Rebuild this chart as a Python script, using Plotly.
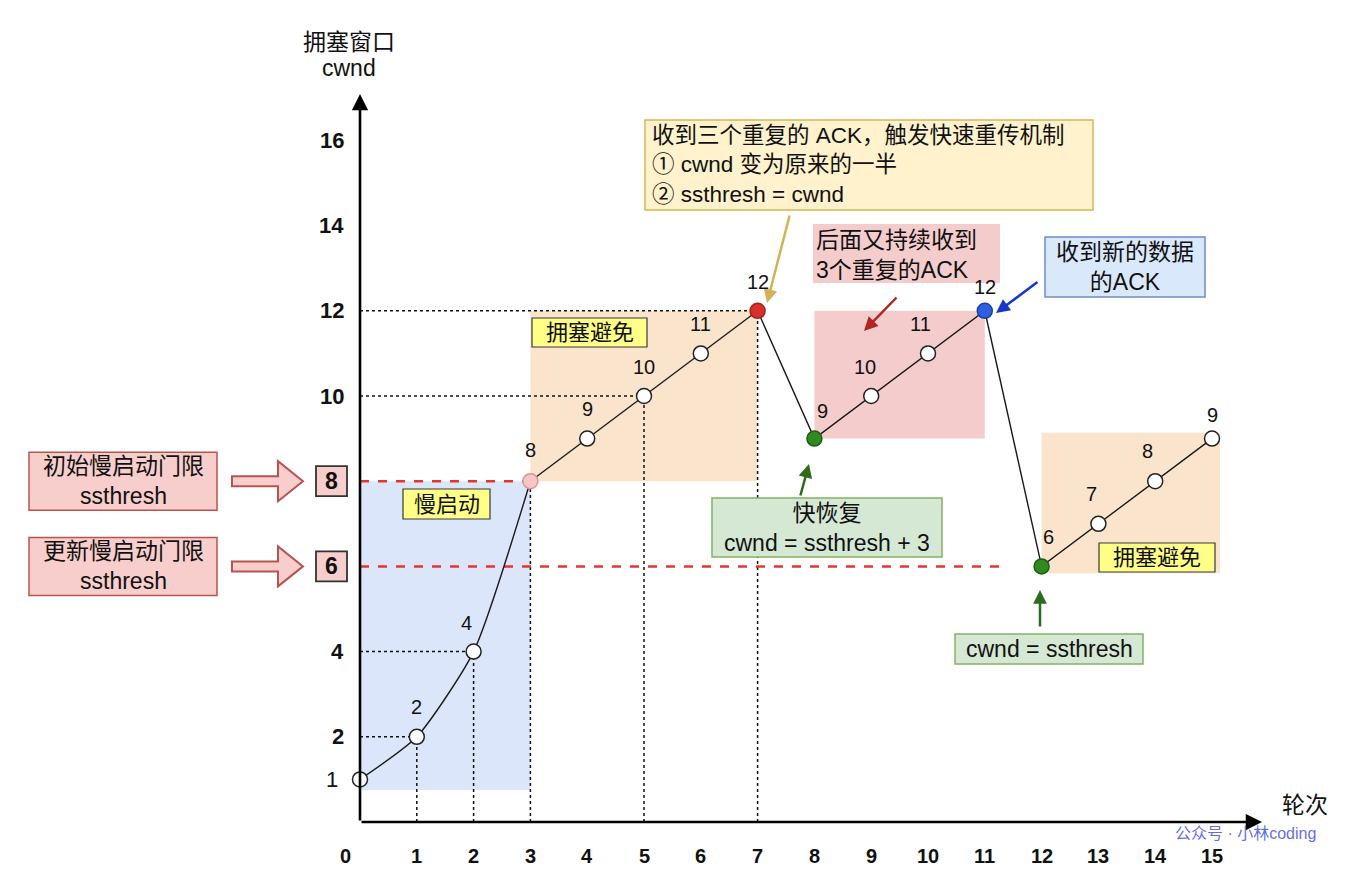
import plotly.graph_objects as go

# ---------------- data ----------------
rounds = [0, 1, 2, 3, 4, 5, 6, 7, 8, 9, 10, 11, 12, 13, 14, 15]
cwnd = [1, 2, 4, 8, 9, 10, 11, 12, 9, 10, 11, 12, 6, 7, 8, 9]

x_tick_values = [0, 1, 2, 3, 4, 5, 6, 7, 8, 9, 10, 11, 12, 13, 14, 15]
x_tick_labels = ["0", "1", "2", "3", "4", "5", "6", "7", "8", "9", "10", "11", "12", "13", "14", "15"]
y_tick_values = [1, 2, 4, 10, 12, 14, 16]
y_tick_labels = ["1", "2", "4", "10", "12", "14", "16"]

ssthresh_values = [8, 6]
ssthresh_labels = ["初始慢启动门限<br>ssthresh", "更新慢启动门限<br>ssthresh"]

phase_names = ["慢启动", "拥塞避免", "", "拥塞避免"]
phase_start = [0, 3, 8, 12]
phase_end = [3, 7, 11, 15]

guide_rounds = [1, 2, 3, 5, 7]

# ---------------- layout helpers (pixel -> data) ----------------
PX0, PXU = 360.0, 56.8
PY0, PYU = 822.0, 42.6


def X(px):
    return (px - PX0) / PXU


def Y(py):
    return (PY0 - py) / PYU


def DX(p):
    return p / PXU


def DY(p):
    return p / PYU


FONT = "Liberation Sans, Arial, Noto Sans CJK SC, sans-serif"
TS = 23  # general text size
shapes = []
annotations = []


def rect(x0, y0, x1, y1, fill, line=None, lw=1.2):
    shapes.append(dict(type="rect", xref="x", yref="y", x0=x0, y0=y0, x1=x1, y1=y1,
                       fillcolor=fill,
                       line=dict(color=line if line else "rgba(0,0,0,0)", width=lw if line else 0),
                       layer="below"))


def seg(x0, y0, x1, y1, color="#111", width=1.5, dash="dot"):
    shapes.append(dict(type="line", xref="x", yref="y", x0=x0, y0=y0, x1=x1, y1=y1,
                       line=dict(color=color, width=width, dash=dash), layer="below"))


def text(x, y, s, size=TS, color="#111", xanchor="center", yanchor="middle", align="center",
         xshift=0, yshift=0):
    annotations.append(dict(x=x, y=y, xref="x", yref="y", text=s, showarrow=False,
                            font=dict(size=size, color=color, family=FONT),
                            xanchor=xanchor, yanchor=yanchor, align=align,
                            xshift=xshift, yshift=yshift))


def arrow(hx, hy, tx, ty, color, width=2.5, size=1.0, head=2):
    annotations.append(dict(x=hx, y=hy, ax=tx, ay=ty, xref="x", yref="y", axref="x", ayref="y",
                            text="", showarrow=True, arrowhead=head, arrowsize=size,
                            arrowwidth=width, arrowcolor=color, standoff=0, startstandoff=0))


# ---------------- phase regions ----------------
region_fill = ["#dbe6fa", "#fbe4cc", "#f5cccc", "#fbe4cc"]
region_pad = [(0, 0, 0.25, 0), (0, 0, 0, 0), (0, 0, 0, 0), (0, 0.14, 0.16, 0.14)]
for i in range(len(phase_start)):
    idx = [k for k, r in enumerate(rounds) if phase_start[i] <= r <= phase_end[i]]
    vals = [cwnd[k] for k in idx]
    pl, pr, pb, pt = region_pad[i]
    rect(phase_start[i] - pl, min(vals) - pb, phase_end[i] + pr, max(vals) + pt, region_fill[i])

# ---------------- guide lines ----------------
for r in guide_rounds:
    v = cwnd[rounds.index(r)]
    seg(r, 0, r, v)
    if v not in ssthresh_values:
        seg(0, v, r, v)

# red dashed ssthresh lines
seg(0, ssthresh_values[0], rounds[cwnd.index(ssthresh_values[0])], ssthresh_values[0],
    color="#e8352b", width=2.5, dash="dash")
seg(0, ssthresh_values[1], X(1000), ssthresh_values[1], color="#e8352b", width=2.5, dash="dash")

# ---------------- label boxes ----------------
label_boxes = [(532, 318, 647, 347), (403, 489, 490, 519), (1099, 543, 1215, 572)]
label_texts = [phase_names[1], phase_names[0], phase_names[3]]
for (a, b, c, d), t in zip(label_boxes, label_texts):
    rect(X(a), Y(d), X(c), Y(b), "#ffff88", "#36393d", 1.2)
    text(X((a + c) / 2), Y((b + d) / 2), t, size=22)

# top yellow note
rect(X(645), Y(210), X(1093), Y(120), "#fff2cc", "#d6b656", 1.5)
text(X(650), Y(165), "收到三个重复的 ACK，触发快速重传机制<br>① cwnd 变为原来的一半<br>② ssthresh = cwnd",
     size=22.5, xanchor="left", align="left")
arrow(X(767), Y(303), X(790), Y(214), "#d2b257", width=2.5, size=1.1)

# pink note
rect(X(813), Y(283), X(1000), Y(224), "#f5cccc")
text(X(814), Y(254.5), "后面又持续收到<br>3个重复的ACK", xanchor="left", align="left")
arrow(X(864), Y(331), X(898), Y(296), "#b3261e", width=2.5, size=1.1)

# blue note
rect(X(1045), Y(297), X(1205), Y(237), "#dae8fc", "#6c8ebf", 1.5)
text(X(1125), Y(267), "收到新的数据<br>的ACK")
arrow(X(996), Y(313), X(1039), Y(281), "#1a35c9", width=2.5, size=1.1)

# green notes
rect(X(712), Y(557), X(942), Y(498), "#d5e8d4", "#82b366", 1.5)
text(X(827), Y(527.5), "快恢复<br>cwnd = ssthresh + 3")
arrow(X(809), Y(464), X(800), Y(497), "#2e6b1a", width=2.5, size=1.1)

rect(X(955), Y(664), X(1143), Y(634), "#d5e8d4", "#82b366", 1.5)
text(X(1049), Y(649), "cwnd = ssthresh")
arrow(X(1040), Y(590), X(1040), Y(628), "#2e6b1a", width=2.5, size=1.1)

# ---------------- left ssthresh callouts ----------------
for v, lab in zip(ssthresh_values, ssthresh_labels):
    rect(X(29), v - DY(29), X(217), v + DY(29), "#f8cecc", "#b85450", 1.5)
    text(X(123), v, lab)
    path = (f"M {X(232)},{v + DY(5)} L {X(278)},{v + DY(5)} L {X(278)},{v + DY(20)} "
            f"L {X(303)},{v} L {X(278)},{v - DY(20)} L {X(278)},{v - DY(5)} L {X(232)},{v - DY(5)} Z")
    shapes.append(dict(type="path", xref="x", yref="y", path=path, fillcolor="#f8cecc",
                       line=dict(color="#b85450", width=2), layer="below"))
    rect(X(316), v - DY(15), X(347), v + DY(15), "#f8cecc", "#333333", 1.8)
    text(X(331.5), v, f"<b>{v}</b>", size=23)

# ---------------- axes ----------------
arrow(0, Y(94), 0, 0, "#000", width=2.6, size=1.25)
arrow(X(1262), 0, 0, 0, "#000", width=2.6, size=1.25)
text(X(349), Y(42), "拥塞窗口")
text(X(349), Y(68), "cwnd")
text(X(1305), Y(805), "轮次")

for v, lab in zip(x_tick_values, x_tick_labels):
    xs = -15 if v == 0 else 0
    text(v, Y(856), f"<b>{lab}</b>", size=20, xshift=xs)
for v, lab in zip(y_tick_values, y_tick_labels):
    if v == 1:
        text(X(346), v, lab, size=22, xanchor="right", xshift=-6)
    else:
        text(X(346), v, f"<b>{lab}</b>", size=22, xanchor="right")

# ---------------- data line and points ----------------
fig = go.Figure()
fig.add_trace(go.Scatter(x=rounds[:4], y=cwnd[:4], mode="lines",
                         line=dict(color="#1a1a1a", width=1.4, shape="spline", smoothing=0.6),
                         hoverinfo="skip"))
fig.add_trace(go.Scatter(x=rounds[3:], y=cwnd[3:], mode="lines",
                         line=dict(color="#1a1a1a", width=1.4), hoverinfo="skip"))

highlight = {3: ("#f6c6c2", "#d89590"), 7: ("#d8302a", "#a3231c"), 8: ("#2f8a20", "#1f5e14"),
             11: ("#2f5fe0", "#1a3fa8"), 12: ("#2f8a20", "#1f5e14")}
fills = [highlight.get(i, ("#ffffff", "#222222"))[0] for i in range(len(rounds))]
edges = [highlight.get(i, ("#ffffff", "#222222"))[1] for i in range(len(rounds))]
fig.add_trace(go.Scatter(x=rounds, y=cwnd, mode="markers",
                         marker=dict(size=15, color=fills, line=dict(color=edges, width=1.5)),
                         hoverinfo="skip"))

label_shift = [None, (0, 30), (-7, 29), (0, 31), (0, 30), (0, 29), (0, 29), (0, 29),
               (8, 28), (-6, 29), (-8, 29), (0, 24), (7, 29), (-7, 30), (-8, 30), (0, 24)]
for r, v, sh in zip(rounds, cwnd, label_shift):
    if sh is None:
        continue
    text(r, v, str(v), size=20, xshift=sh[0], yshift=sh[1])

# watermark
text(X(1245), Y(833), "公众号 · 小林coding", size=16, color="rgba(70,80,225,0.85)")

fig.update_layout(
    width=1333, height=861, autosize=False,
    margin=dict(l=0, r=0, t=0, b=0),
    plot_bgcolor="white", paper_bgcolor="white", showlegend=False,
    xaxis=dict(range=[X(8), X(1341)], visible=False, fixedrange=True),
    yaxis=dict(range=[Y(869), Y(8)], visible=False, fixedrange=True),
    shapes=shapes, annotations=annotations,
)

fig.write_html("out.html", config={"displayModeBar": False})
